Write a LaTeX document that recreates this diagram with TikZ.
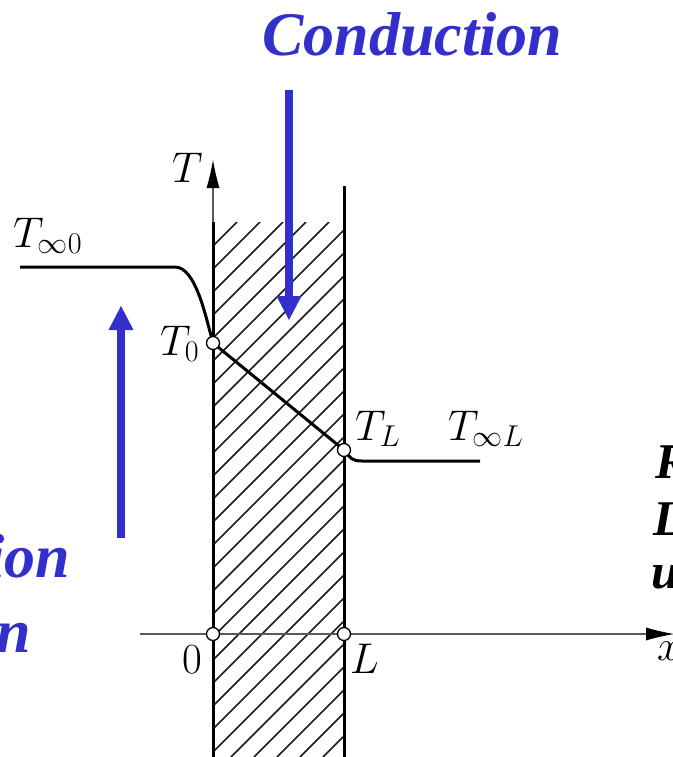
\RequirePackage{fix-cm}
\documentclass[tikz,border=0pt]{standalone}
\usepackage{fontspec}
\newfontfamily\tnr{Liberation Serif}
\usetikzlibrary{arrows.meta}
\definecolor{cblue}{RGB}{51,47,204}
\begin{document}
\begin{tikzpicture}[x=1pt,y=-1pt,
  heat/.style={draw=cblue, line width=8pt, -{Triangle[length=24pt,width=25pt,line width=0pt]}},
  axisline/.style={draw=black!65, line width=1.6pt, -{Latex[length=28pt,width=13pt,line width=0pt,fill=black]}},
  wall/.style={draw=black, line width=3pt},
  hatchline/.style={draw=black!90, line width=1.6pt},
  profile/.style={draw=black, line width=3pt},
  dot/.style={circle, draw=black, fill=white, line width=1.3pt, minimum size=13pt, inner sep=0pt},
  lbl/.style={anchor=base west, inner sep=0pt, font=\fontsize{43}{50}\selectfont},
  bigtxt/.style={inner sep=0pt, font=\tnr\bfseries\itshape\fontsize{62}{70}\selectfont, text=cblue},
  sidetxt/.style={anchor=base west, inner sep=0pt, font=\tnr\bfseries\itshape\fontsize{50}{60}\selectfont, text=black}]
\useasboundingbox (0,0) rectangle (672,757);

% coordinates
\coordinate (o) at (213,634);
\coordinate (l) at (344,634);
\coordinate (wlt) at (213,222);
\coordinate (wlb) at (213,757);
\coordinate (wrt) at (344,186);
\coordinate (wrb) at (344,757);
\coordinate (ttip) at (213,160);
\coordinate (xs) at (140,634);
\coordinate (xtip) at (674,634);
\coordinate (t0) at (213,343);
\coordinate (tl) at (344,450);
\coordinate (pa) at (20,267);
\coordinate (pb) at (175,267);
\coordinate (pc) at (362,461);
\coordinate (pd) at (480,461);
\coordinate (c1s) at (289,90);
\coordinate (c1e) at (289,320);
\coordinate (c2s) at (121,538);
\coordinate (c2e) at (121,306);

% hatching
\begin{scope}
  \clip (213,222) rectangle (344,757);
  \foreach \k in {-8,...,24} {
    \pgfmathsetmacro{\c}{574+23*\k}
    \draw[hatchline] (\c-222,222) -- (\c-757,757);
  }
\end{scope}

% axes
\draw[axisline] (xs) -- (xtip);
\draw[axisline] (wlt) -- (ttip);

% walls
\draw[wall] (wlt) -- (wlb);
\draw[wall] (wrt) -- (wrb);

% temperature profile
\draw[profile] (pa) -- (pb) .. controls (196,267) and (206,318) .. (t0);
\draw[profile] (t0) -- (tl);
\draw[profile] (tl) .. controls (350,458) and (352,461) .. (pc) -- (pd);

% points
\node[dot] (n0) at (t0) {};
\node[dot] (nl) at (tl) {};
\node[dot] (no) at (o) {};
\node[dot] (nL) at (l) {};

% labels
\node[lbl] (labT) at (172,182) {$T$};
\node[lbl] (labTinf0) at (13,247) {$T_{\infty0}$};
\node[lbl] (labT0) at (160,355) {$T_0$};
\node[lbl] (labTL) at (355,440) {$T_L$};
\node[lbl] (labTinfL) at (448,440) {$T_{\infty L}$};
\node[lbl] (lab0) at (182,673) {$0$};
\node[lbl] (labL) at (350,673) {$L$};
\node[lbl] (labx) at (657,660) {$x$};

% blue arrows
\draw[heat] (c1s) -- (c1e);
\draw[heat] (c2s) -- (c2e);

% texts
\node[bigtxt, anchor=base west] (cond) at (262,56) {Conduction};
\node[bigtxt, anchor=base east] (ion) at (70,577) {ion};
\node[bigtxt, anchor=base east] (nn) at (31,652) {n};
\node[sidetxt] (sr) at (655,478) {R};
\node[sidetxt] (sl) at (653,535) {L};
\node[sidetxt] (su) at (651,588) {u};
\end{tikzpicture}
\end{document}
